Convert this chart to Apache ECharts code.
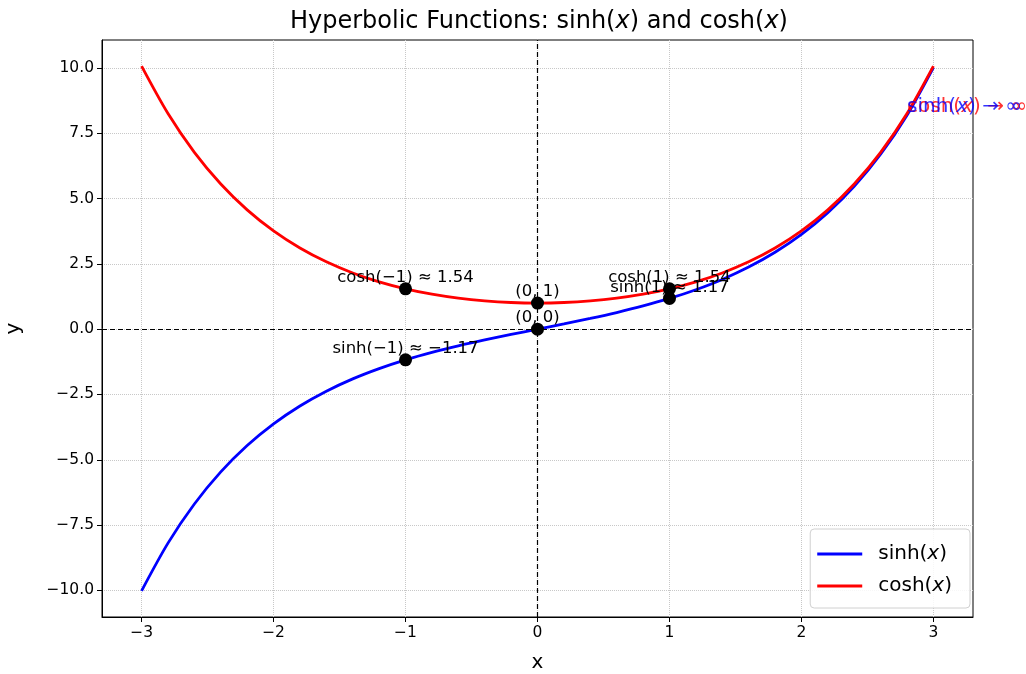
<!DOCTYPE html>
<html>
<head>
<meta charset="utf-8">
<script src="https://cdn.jsdelivr.net/npm/echarts@6/dist/echarts.min.js"></script>
<style>html,body{margin:0;padding:0;background:#fff;}#c{width:1026px;height:674px;}</style>
</head>
<body>
<div id="c"></div>
<script>
// Curve samples
var xs = [-3.0,-2.8,-2.6,-2.4,-2.2,-2.0,-1.8,-1.6,-1.4,-1.2,-1.0,-0.8,-0.6,-0.4,-0.2,0.0,0.2,0.4,0.6,0.8,1.0,1.2,1.4,1.6,1.8,2.0,2.2,2.4,2.6,2.8,3.0];
var sinhVals = [-10.018,-8.192,-6.695,-5.466,-4.457,-3.627,-2.942,-2.376,-1.904,-1.510,-1.175,-0.888,-0.637,-0.411,-0.201,0.0,0.201,0.411,0.637,0.888,1.175,1.510,1.904,2.376,2.942,3.627,4.457,5.466,6.695,8.192,10.018];
var coshVals = [10.068,8.253,6.769,5.557,4.568,3.762,3.107,2.577,2.151,1.811,1.543,1.337,1.185,1.081,1.020,1.0,1.020,1.081,1.185,1.337,1.543,1.811,2.151,2.577,3.107,3.762,4.568,5.557,6.769,8.253,10.068];

// Marked points
var pointX = [-1, -1, 0, 0, 1, 1];
var pointY = [1.543, -1.175, 1, 0, 1.543, 1.175];
var pointLabels = ['cosh(\u22121) \u2248 1.54', 'sinh(\u22121) \u2248 \u22121.17', '(0, 1)', '(0, 0)', 'cosh(1) \u2248 1.54', 'sinh(1) \u2248 1.17'];

// Asymptote notes
var noteX = [2.8, 2.8];
var noteY = [8.5, 8.5];
var noteText = ['{r|cosh(}{ri|x}{r|) \u2192 \u221e}', '{b|sinh(}{bi|x}{b|) \u2192 \u221e}'];

// Ticks
var xTicks = [-3, -2, -1, 0, 1, 2, 3];
var yTicks = [-10, -7.5, -5, -2.5, 0, 2.5, 5, 7.5, 10];

var FONT = 'DejaVu Sans';
function minus(s){ return s.replace('-', '\u2212'); }
function pairs(a, b){ return a.map(function(v,i){ return [v, b[i]]; }); }

var chart = echarts.init(document.getElementById('c'), null, {renderer:'canvas'});
var option = {
  animation: false,
  backgroundColor: '#fff',
  textStyle: {fontFamily: FONT},
  title: {
    text: '{a|Hyperbolic Functions: sinh(}{i|x}{a|) and cosh(}{i|x}{a|)}',
    left: 285, top: 5,
    textStyle: {
      rich: {
        a: {fontFamily: FONT, fontSize: 24, fontWeight: 'normal', color: '#000'},
        i: {fontFamily: FONT, fontSize: 24, fontWeight: 'normal', fontStyle: 'italic', color: '#000'}
      }
    }
  },
  grid: {left: 102, right: 53, top: 40, bottom: 57, outerBoundsMode: 'none', containLabel: false,
    show: true, borderColor: '#000', borderWidth: 1, backgroundColor: 'transparent'},
  xAxis: {
    type: 'value', min: -3.3, max: 3.3,
    name: 'x', nameLocation: 'middle', nameGap: 36,
    nameTextStyle: {fontFamily: FONT, fontSize: 20, color: '#000'},
    axisLine: {show: true, onZero: false, lineStyle: {color: '#000'}},
    axisTick: {show: true, length: 5, lineStyle: {color: '#000'}, customValues: xTicks},
    axisLabel: {fontFamily: FONT, fontSize: 15.5, color: '#000', margin: 8, customValues: xTicks,
      formatter: function(v){ return minus(String(v)); }},
    splitLine: {show: true, lineStyle: {color: '#c8c8c8', type: 'dotted', width: 1}}
  },
  yAxis: {
    type: 'value', min: -11.02, max: 11.07,
    name: 'y', nameLocation: 'middle', nameGap: 78,
    nameTextStyle: {fontFamily: FONT, fontSize: 20, color: '#000'},
    axisLine: {show: true, onZero: false, lineStyle: {color: '#000'}},
    axisTick: {show: true, length: 5, lineStyle: {color: '#000'}, customValues: yTicks},
    axisLabel: {fontFamily: FONT, fontSize: 15.5, color: '#000', margin: 8, customValues: yTicks,
      formatter: function(v){ return minus(v.toFixed(1)); }},
    splitLine: {show: true, lineStyle: {color: '#c8c8c8', type: 'dotted', width: 1}}
  },
  legend: {
    orient: 'vertical', right: 56, bottom: 66,
    data: ['sinh', 'cosh'],
    formatter: function(n){ return '{n|' + n + '(}{i|x}{n|)}'; },
    icon: 'rect', itemWidth: 45, itemHeight: 3, itemGap: 12,
    padding: [15, 18, 12, 7],
    backgroundColor: 'rgba(255,255,255,0.85)', borderColor: '#d0d0d0', borderWidth: 1, borderRadius: 4,
    textStyle: {
      padding: [0, 0, 0, 11],
      rich: {
        n: {fontFamily: FONT, fontSize: 20, lineHeight: 22, color: '#000'},
        i: {fontFamily: FONT, fontSize: 20, lineHeight: 22, fontStyle: 'italic', color: '#000'}
      }
    }
  },
  series: [
    {
      name: 'sinh', type: 'line', data: pairs(xs, sinhVals), smooth: 0.3, showSymbol: false, symbol: 'none',
      lineStyle: {color: '#0000ff', width: 2.8}, itemStyle: {color: '#0000ff'}, z: 3,
      markLine: {
        silent: true, symbol: 'none', label: {show: false},
        lineStyle: {color: '#000', type: [5, 3], width: 1.2},
        data: [{xAxis: 0}, {yAxis: 0}]
      }
    },
    {
      name: 'cosh', type: 'line', data: pairs(xs, coshVals), smooth: 0.3, showSymbol: false, symbol: 'none',
      lineStyle: {color: '#ff0000', width: 2.8}, itemStyle: {color: '#ff0000'}, z: 4
    },
    {
      name: 'points', type: 'scatter', symbolSize: 13, itemStyle: {color: '#000', opacity: 1}, z: 6,
      data: pointX.map(function(x, i){ return {value: [x, pointY[i]], label: {formatter: pointLabels[i]}}; }),
      label: {show: true, position: 'inside', offset: [0, -11], fontFamily: FONT, fontSize: 16.5, color: '#000'}
    },
    {
      name: 'notes', type: 'scatter', symbolSize: 0, clip: false, z: 7, silent: true,
      data: noteX.map(function(x, i){ return {value: [x, noteY[i]], label: {formatter: noteText[i]}}; }),
      label: {show: true, position: 'right', distance: 0,
        rich: {
          r: {fontFamily: FONT, fontSize: 20, color: '#ff0000'},
          ri: {fontFamily: FONT, fontSize: 20, fontStyle: 'italic', color: '#ff0000'},
          b: {fontFamily: FONT, fontSize: 20, color: '#0000ff'},
          bi: {fontFamily: FONT, fontSize: 20, fontStyle: 'italic', color: '#0000ff'}
        }
      }
    }
  ]
};
chart.setOption(option);
</script>
</body>
</html>
